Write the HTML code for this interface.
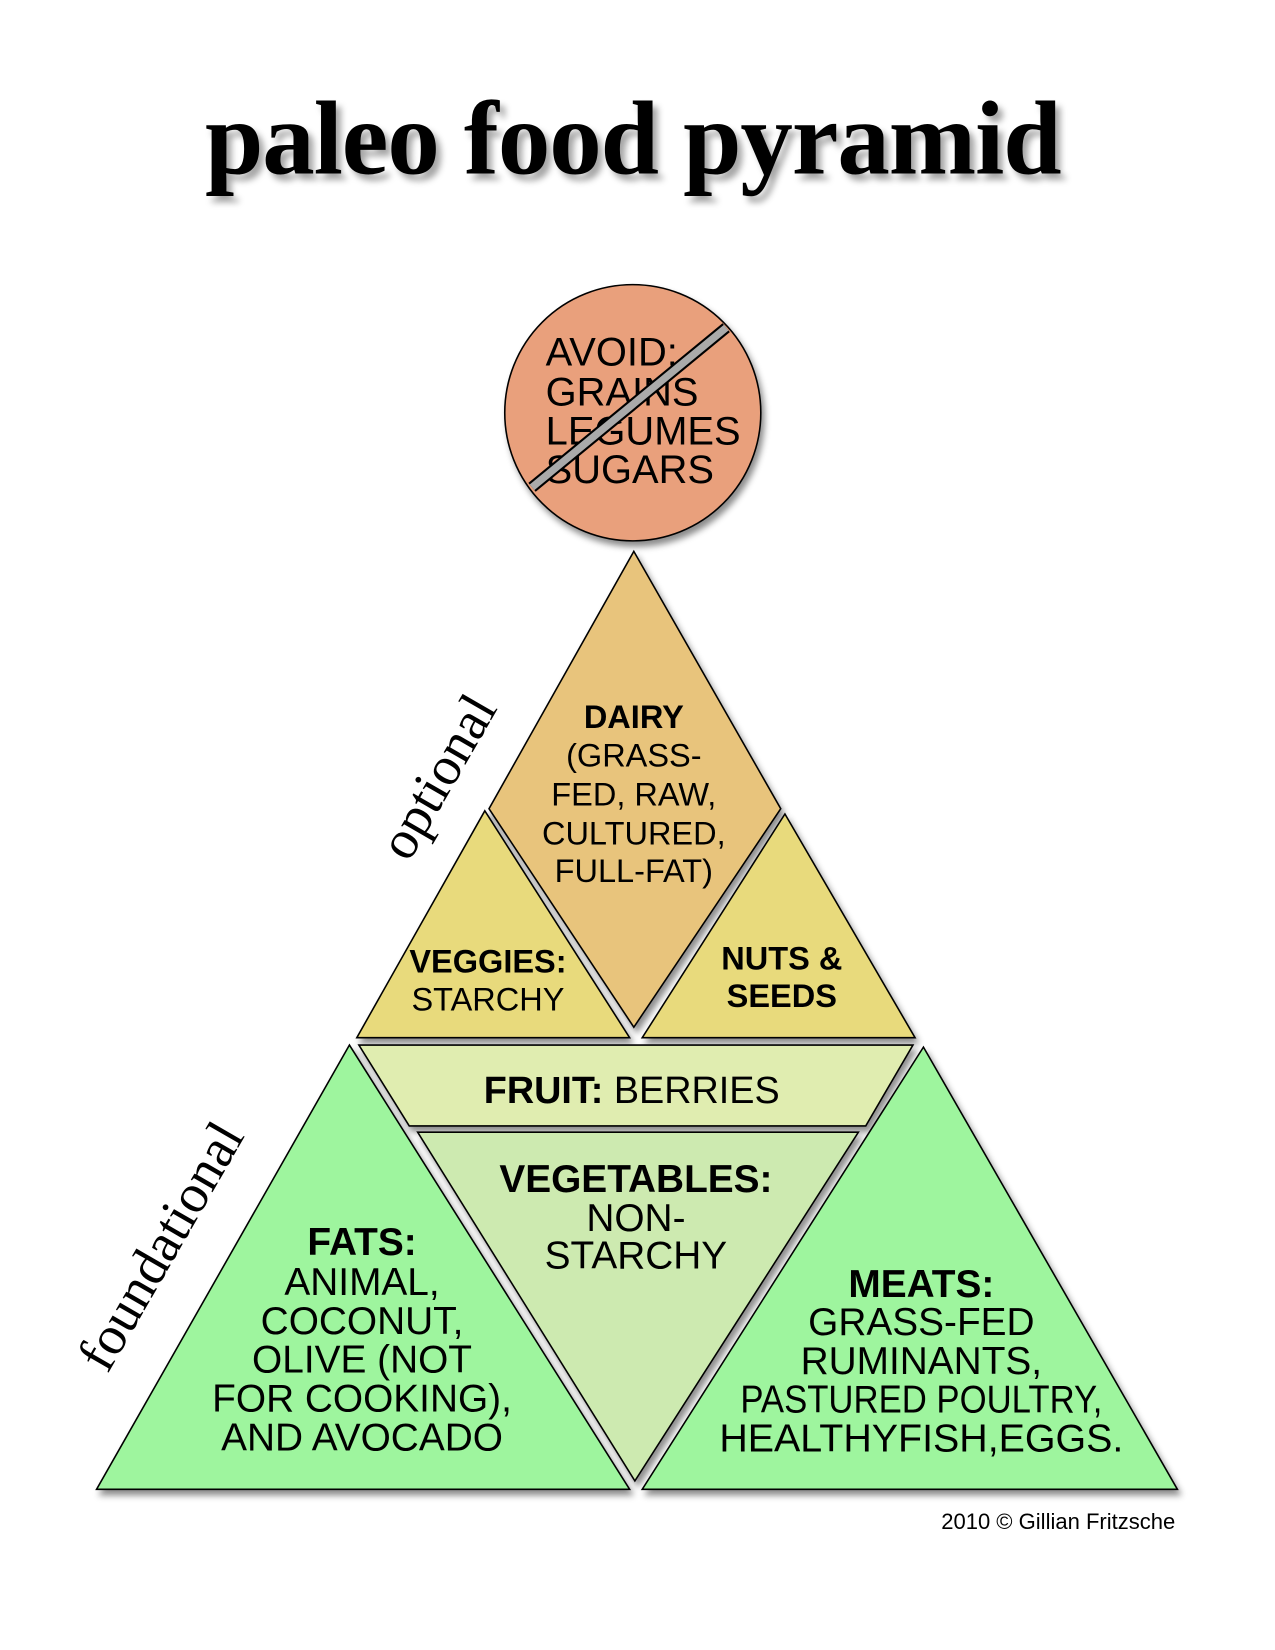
<!DOCTYPE html>
<html><head><meta charset="utf-8"><style>
html,body{margin:0;padding:0;background:#fff;}
svg{display:block;}
text{font-family:"Liberation Sans",sans-serif;fill:#000;}
.c{text-anchor:middle;}
</style></head><body>
<svg width="1275" height="1650" viewBox="0 0 1215 1571" preserveAspectRatio="none" xmlns="http://www.w3.org/2000/svg">
<defs>
<filter id="sh" x="-10%" y="-10%" width="130%" height="130%">
<feDropShadow dx="3" dy="5" stdDeviation="3" flood-color="#000" flood-opacity="0.45"/>
</filter>
<filter id="tsh" x="-5%" y="-20%" width="115%" height="150%">
<feDropShadow dx="5" dy="6" stdDeviation="3" flood-color="#000" flood-opacity="0.35"/>
</filter>
</defs>
<text x="603" y="165" class="c" style="font-family:'Liberation Serif',serif;font-weight:bold" font-size="100" letter-spacing="-1" filter="url(#tsh)">paleo food pyramid</text>

<g stroke="#000" stroke-width="1.5" filter="url(#sh)">
<circle cx="603" cy="393" r="122" fill="#E9A07C"/>
<polygon points="604,525 744,770 604,978 466,770" fill="#E8C47C"/>
<polygon points="462,772 600,988 340,988" fill="#E8DA7C"/>
<polygon points="748,775 872,988 612,988" fill="#E8DA7C"/>
<polygon points="342,995 870,995 825,1072 390,1072" fill="#E0EDB0"/>
<polygon points="398,1078 818,1078 605,1410" fill="#CDEAB0"/>
<polygon points="333,995 600,1418 92,1418" fill="#9EF59E"/>
<polygon points="880,997 1122,1418 612,1418" fill="#9EF59E"/>
</g>

<g font-size="38">
<text x="520" y="348">AVOID:</text>
<text x="520" y="386">GRAINS</text>
<text x="520" y="423">LEGUMES</text>
<text x="520" y="460">SUGARS</text>
</g>
<line x1="507" y1="464" x2="692" y2="312" stroke="#000" stroke-width="11"/>
<line x1="507" y1="464" x2="692" y2="312" stroke="#aaa" stroke-width="7"/>

<g font-size="31" class="c">
<text x="604" y="693" class="c" font-weight="bold">DAIRY</text>
<text x="604" y="730" class="c">(GRASS-</text>
<text x="604" y="767" class="c">FED, RAW,</text>
<text x="604" y="804" class="c">CULTURED,</text>
<text x="604" y="840" class="c">FULL-FAT)</text>
<text x="465" y="926" class="c" font-weight="bold">VEGGIES:</text>
<text x="465" y="962" class="c">STARCHY</text>
<text x="745" y="923" class="c" font-weight="bold">NUTS &amp;</text>
<text x="745" y="959" class="c" font-weight="bold">SEEDS</text>
</g>
<text x="602" y="1050" class="c" font-size="36"><tspan font-weight="bold">FRUIT:</tspan> BERRIES</text>
<g font-size="37">
<text x="606" y="1135" class="c" font-weight="bold">VEGETABLES:</text>
<text x="606" y="1172" class="c">NON-</text>
<text x="606" y="1208" class="c">STARCHY</text>
<text x="345" y="1195" class="c" font-weight="bold">FATS:</text>
<text x="345" y="1233" class="c">ANIMAL,</text>
<text x="345" y="1270" class="c">COCONUT,</text>
<text x="345" y="1307" class="c">OLIVE (NOT</text>
<text x="345" y="1344" class="c">FOR COOKING),</text>
<text x="345" y="1381" class="c">AND AVOCADO</text>
<text x="878" y="1235" class="c" font-weight="bold">MEATS:</text>
<text x="878" y="1271" class="c">GRASS-FED</text>
<text x="878" y="1308" class="c">RUMINANTS,</text>
<text x="878" y="1345" class="c" textLength="345" lengthAdjust="spacingAndGlyphs">PASTURED POULTRY,</text>
<text x="878" y="1382" class="c" textLength="385" lengthAdjust="spacingAndGlyphs">HEALTHYFISH,EGGS.</text>
</g>
<text transform="translate(432,748) rotate(-60)" class="c" font-size="52" style="font-family:'Liberation Serif',serif">optional</text>
<text transform="translate(168,1195) rotate(-60)" class="c" font-size="52" style="font-family:'Liberation Serif',serif">foundational</text>
<text x="1120" y="1456" font-size="21" text-anchor="end">2010 © Gillian Fritzsche</text>
</svg>
</body></html>
